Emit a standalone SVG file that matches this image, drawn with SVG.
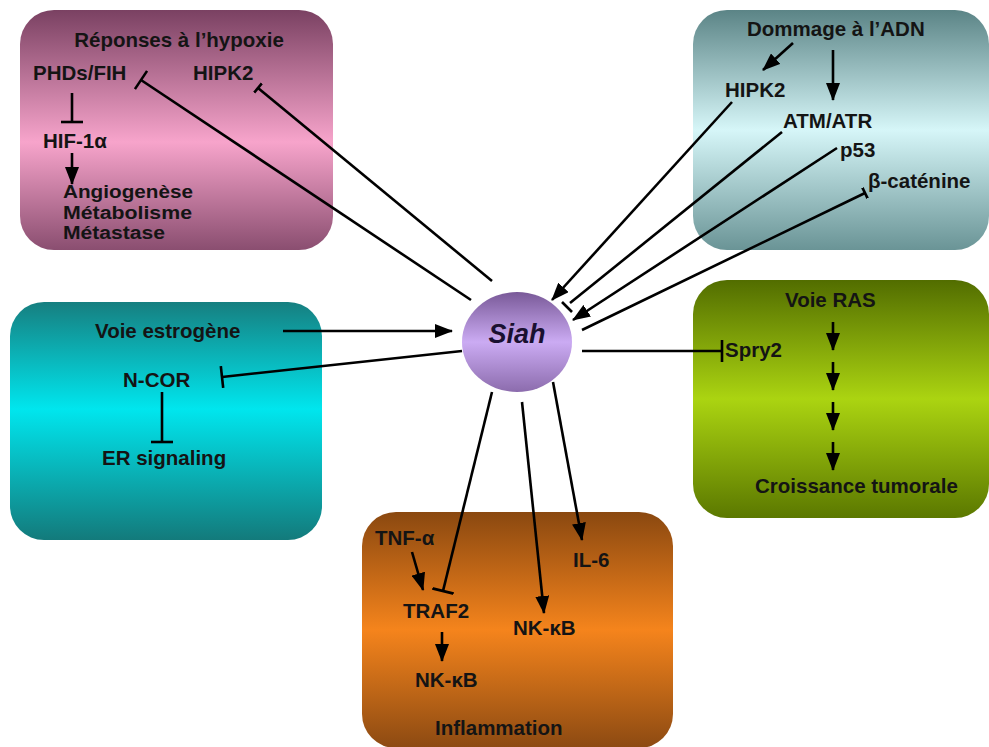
<svg xmlns="http://www.w3.org/2000/svg" width="989" height="747" viewBox="0 0 989 747">
<style>
text{font-family:"Liberation Sans",Arial,sans-serif;font-weight:bold;font-size:20.5px;fill:#141414}
.sm{font-size:18px}
.ln{stroke:#000;stroke-width:2.6;fill:none}
.ar{marker-end:url(#arr)}
.tb{marker-end:url(#tee)}
.ts{marker-end:url(#tees)}
</style>
<defs>
<marker id="arr" viewBox="0 0 18 14" markerWidth="18" markerHeight="14" refX="17" refY="7" orient="auto" markerUnits="userSpaceOnUse"><path d="M0,0 L18,7 L0,14 Z" fill="#000"/></marker>
<marker id="tee" viewBox="0 0 4 22" markerWidth="4" markerHeight="22" refX="2" refY="11" orient="auto" markerUnits="userSpaceOnUse"><rect x="0.7" y="0" width="2.6" height="22" fill="#000"/></marker>
<marker id="tees" viewBox="0 0 4 12" markerWidth="4" markerHeight="12" refX="2" refY="6" orient="auto" markerUnits="userSpaceOnUse"><rect x="0.7" y="0" width="2.6" height="12" fill="#000"/></marker>
<linearGradient id="gPink" x1="0" y1="0" x2="0" y2="1"><stop offset="0" stop-color="#7a4162"/><stop offset="0.55" stop-color="#f7a4cb"/><stop offset="1" stop-color="#8a4e70"/></linearGradient>
<linearGradient id="gGray" x1="0" y1="0" x2="0" y2="1"><stop offset="0" stop-color="#5b8486"/><stop offset="0.5" stop-color="#d6f6f8"/><stop offset="1" stop-color="#6a9496"/></linearGradient>
<linearGradient id="gCyan" x1="0" y1="0" x2="0" y2="1"><stop offset="0" stop-color="#167f80"/><stop offset="0.45" stop-color="#00e6ee"/><stop offset="1" stop-color="#137a7b"/></linearGradient>
<linearGradient id="gGreen" x1="0" y1="0" x2="0" y2="1"><stop offset="0" stop-color="#526d00"/><stop offset="0.5" stop-color="#abd411"/><stop offset="1" stop-color="#5b7800"/></linearGradient>
<linearGradient id="gOrange" x1="0" y1="0" x2="0" y2="1"><stop offset="0" stop-color="#8a4810"/><stop offset="0.5" stop-color="#f5841c"/><stop offset="1" stop-color="#8c4a12"/></linearGradient>
<linearGradient id="gSiah" x1="0" y1="0" x2="0" y2="1"><stop offset="0" stop-color="#795998"/><stop offset="0.5" stop-color="#cbabf3"/><stop offset="1" stop-color="#8c6cad"/></linearGradient>
</defs>

<g id="hypoxie">
<rect x="20" y="10" width="313" height="240" rx="34" fill="url(#gPink)"/>
<text x="179" y="47" text-anchor="middle">Réponses à l’hypoxie</text>
<text x="33" y="80">PHDs/FIH</text>
<text x="193" y="80">HIPK2</text>
<text x="43" y="148">HIF-1α</text>
<text class="sm" x="63" y="198" textLength="130" lengthAdjust="spacingAndGlyphs">Angiogenèse</text>
<text class="sm" x="63" y="218.5" textLength="129" lengthAdjust="spacingAndGlyphs">Métabolisme</text>
<text class="sm" x="63" y="239" textLength="102" lengthAdjust="spacingAndGlyphs">Métastase</text>
<line class="ln tb" x1="72" y1="93" x2="72" y2="122"/>
<line class="ln ar" x1="72" y1="153" x2="72" y2="184"/>
</g>

<g id="adn">
<rect x="693" y="10" width="296" height="240" rx="34" fill="url(#gGray)"/>
<text x="747" y="36">Dommage à l’ADN</text>
<text x="725" y="97">HIPK2</text>
<text x="783" y="128">ATM/ATR</text>
<text x="840" y="157">p53</text>
<text x="868" y="188">β-caténine</text>
<line class="ln ar" x1="793" y1="43" x2="763" y2="70"/>
<line class="ln ar" x1="833" y1="50" x2="833" y2="100"/>
</g>

<g id="estrogene">
<rect x="10" y="302" width="312" height="238" rx="34" fill="url(#gCyan)"/>
<text x="95" y="338">Voie estrogène</text>
<text x="123" y="387">N-COR</text>
<text x="102" y="465">ER signaling</text>
<line class="ln tb" x1="162" y1="392" x2="162" y2="442"/>
</g>

<g id="ras">
<rect x="693" y="280" width="296" height="238" rx="34" fill="url(#gGreen)"/>
<text x="785" y="307">Voie RAS</text>
<text x="725" y="357">Spry2</text>
<text x="755" y="493">Croissance tumorale</text>
<line class="ln ar" x1="833" y1="322" x2="833" y2="350"/>
<line class="ln ar" x1="833" y1="362" x2="833" y2="390"/>
<line class="ln ar" x1="833" y1="402" x2="833" y2="430"/>
<line class="ln ar" x1="833" y1="442" x2="833" y2="470"/>
</g>

<g id="inflammation">
<rect x="362" y="512" width="311" height="236" rx="34" fill="url(#gOrange)"/>
<text x="375" y="545">TNF-α</text>
<text x="403" y="618">TRAF2</text>
<text x="415" y="687">NK-κB</text>
<text x="513" y="635">NK-κB</text>
<text x="573" y="567">IL-6</text>
<text x="435" y="735">Inflammation</text>
<line class="ln ar" x1="412" y1="552" x2="423" y2="590"/>
<line class="ln ar" x1="442" y1="632" x2="442" y2="661"/>
</g>

<g id="siah">
<ellipse cx="517" cy="342" rx="55" ry="50" fill="url(#gSiah)"/>
<text x="517" y="343" text-anchor="middle" style="font-size:27px;font-style:italic;fill:#1a1030">Siah</text>
</g>

<g id="connectors">
<line class="ln tb" x1="471" y1="300" x2="141" y2="80"/>
<line class="ln ts" x1="492" y1="281" x2="258" y2="88"/>
<line class="ln ar" x1="732" y1="102" x2="552" y2="300"/>
<line class="ln" x1="782" y1="132" x2="570" y2="303"/>
<line class="ln" x1="562" y1="302" x2="572" y2="312"/>
<line class="ln ar" x1="837" y1="148" x2="573" y2="320"/>
<line class="ln ts" x1="582" y1="330" x2="865" y2="193"/>
<line class="ln ar" x1="283" y1="331" x2="452" y2="331"/>
<line class="ln tb" x1="462" y1="351" x2="222" y2="377"/>
<line class="ln tb" x1="582" y1="351" x2="722" y2="351"/>
<line class="ln tb" x1="492" y1="392" x2="443" y2="591"/>
<line class="ln ar" x1="522" y1="402" x2="544" y2="613"/>
<line class="ln ar" x1="553" y1="382" x2="582" y2="540"/>
</g>
</svg>
